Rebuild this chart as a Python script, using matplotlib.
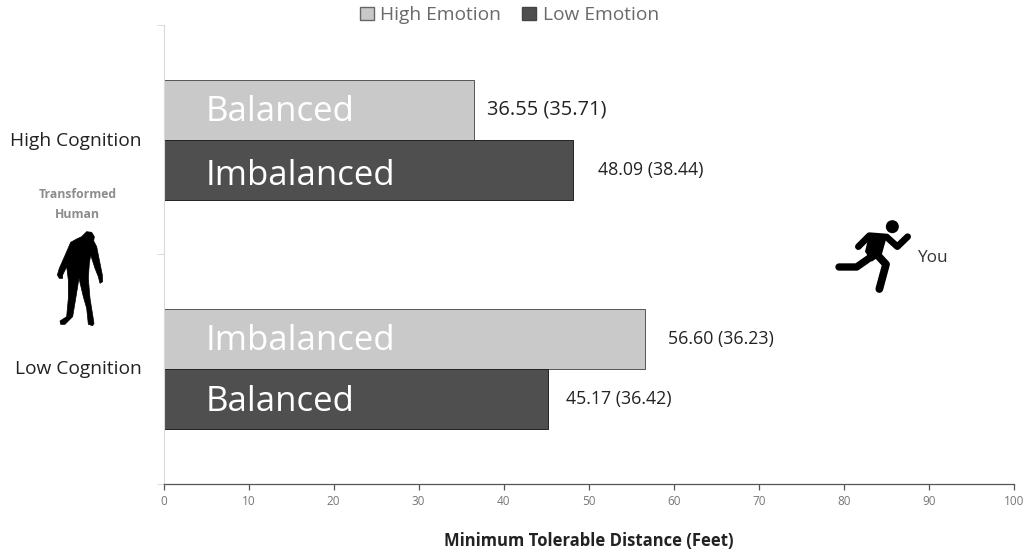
import matplotlib
matplotlib.use("Agg")
from matplotlib import pyplot as plt
from matplotlib.patches import Polygon, Circle, Patch

plt.rcParams['font.family'] = ['Open Sans', 'DejaVu Sans']

# data
categories = ["High Cognition", "Low Cognition"]
high_emotion = [36.55, 56.60]
low_emotion = [48.09, 45.17]
high_sd = [35.71, 36.23]
low_sd = [38.44, 36.42]
high_names = ["Balanced", "Imbalanced"]
low_names = ["Imbalanced", "Balanced"]
high_gap = [13, 23]
low_gap = [25, 18]
high_size = [14.4, 12.8]
low_size = [12.8, 12.8]
low_name_dy = [-1.5, 0.5]
x_ticks = list(range(0, 101, 10))

W, H = 1026, 554
LIGHT = "#c9c9c9"
DARK = "#4f4f4f"
BAR_H = 0.262

fig = plt.figure(figsize=(W / 100, H / 100), dpi=100)
ax = fig.add_axes([163.5 / W, 1 - 483.5 / H, (1014 - 163.5) / W, (483.5 - 25) / H])

ypos = [0, 1]
ax.barh([y - BAR_H / 2 for y in ypos], high_emotion, BAR_H, color=LIGHT, edgecolor="#555555", linewidth=0.7)
ax.barh([y + BAR_H / 2 for y in ypos], low_emotion, BAR_H, color=DARK, edgecolor="#222222", linewidth=0.7)

for i, y in enumerate(ypos):
    ax.annotate(high_names[i], (5, y - BAR_H / 2), xytext=(0, 1), textcoords="offset points",
                color="white", fontsize=25, va="center_baseline", ha="left")
    ax.annotate(low_names[i], (5, y + BAR_H / 2), xytext=(0, low_name_dy[i]), textcoords="offset points",
                color="white", fontsize=25, va="center_baseline", ha="left")
    ax.annotate("%.2f (%.2f)" % (high_emotion[i], high_sd[i]), (high_emotion[i], y - BAR_H / 2),
                xytext=(high_gap[i] * 0.72, 0), textcoords="offset points", fontsize=high_size[i],
                color="#222222", va="center")
    ax.annotate("%.2f (%.2f)" % (low_emotion[i], low_sd[i]), (low_emotion[i], y + BAR_H / 2),
                xytext=(low_gap[i] * 0.72, 0), textcoords="offset points", fontsize=low_size[i],
                color="#222222", va="center")

ax.set_xlim(0, 100)
ax.set_ylim(1.5, -0.5)
ax.set_xticks(x_ticks)
ax.tick_params(axis="x", labelsize=8.5, colors="#777777", length=4, width=0.9, color="#555555", pad=4)
ax.set_yticks([-0.5, 0.5, 1.5])
ax.set_yticklabels([])
ax.tick_params(axis="y", length=5, width=0.7, color="#d9d9d9")
for s in ["top", "right"]:
    ax.spines[s].set_visible(False)
ax.spines["left"].set_color("#d9d9d9")
ax.spines["bottom"].set_color("#555555")
ax.spines["bottom"].set_linewidth(0.9)

ax.set_xlabel("Minimum Tolerable Distance (Feet)", fontsize=12, fontweight="bold", color="#222222")
ax.xaxis.set_label_coords(0.5, -0.106)

handles = [Patch(facecolor=LIGHT, edgecolor="#666666", label="High Emotion"),
           Patch(facecolor=DARK, edgecolor="#444444", label="Low Emotion")]
fig.legend(handles=handles, loc="upper center", bbox_to_anchor=(509.5 / W, 1.02), ncol=2, frameon=False,
           fontsize=13.8, labelcolor="#6a6a6a", handlelength=0.7, handleheight=0.7,
           handletextpad=0.35, columnspacing=1.1)

# overlay in pixel coordinates for labels and the two icons
ov = fig.add_axes([0, 0, 1, 1], facecolor="none")
ov.set_xlim(0, W)
ov.set_ylim(H, 0)
ov.axis("off")

ov.text(142, 141, categories[0], fontsize=13.8, ha="right", va="center", color="#222222")
ov.text(142, 369, categories[1], fontsize=13.8, ha="right", va="center", color="#222222")
ov.text(77.5, 195, "Transformed", fontsize=8.8, fontweight="bold", ha="center", va="center", color="#8c8c8c")
ov.text(77, 214.5, "Human", fontsize=8.8, fontweight="bold", ha="center", va="center", color="#8c8c8c")
ov.text(918, 258, "You", fontsize=12.4, ha="left", va="center", color="#333333")

zombie = [(95, 35), (110, 20), (125, 22), (133, 35), (131, 48), (140, 65), (147, 100), (157, 150), (158, 170),
          (150, 175), (145, 155), (135, 130), (122, 90), (118, 115), (115, 160), (120, 220), (132, 295),
          (128, 302), (115, 298), (110, 250), (100, 215), (87, 160), (78, 215), (68, 275), (45, 298), (32, 298),
          (30, 288), (50, 275), (55, 220), (55, 165), (50, 125), (38, 150), (38, 160), (28, 160), (22, 150),
          (28, 130), (50, 80), (62, 52), (80, 42)]
ov.add_patch(Polygon([(50 + x / 3, 225 + y / 3) for x, y in zombie], closed=True, color="black", lw=0.5))


def px(x, y):
    return 830 + x / 3, 215 + y / 3


def limb(points, w):
    xs, ys = zip(*[px(x, y) for x, y in points])
    ov.plot(xs, ys, color="black", lw=w, solid_capstyle="round", solid_joinstyle="round")


ov.add_patch(Circle(px(187, 35), 6.5, color="black", lw=0))
torso = [(118, 55), (172, 60), (155, 120), (125, 140), (105, 110)]
ov.add_patch(Polygon([px(x, y) for x, y in torso], closed=True, color="black", lw=0))
limb([(85, 95), (118, 62), (170, 66), (202, 95), (233, 65)], 4.8)
limb([(120, 128), (80, 156), (27, 156)], 5.3)
limb([(135, 112), (168, 148), (148, 222)], 5.6)

fig.savefig("out.png", dpi=100)
